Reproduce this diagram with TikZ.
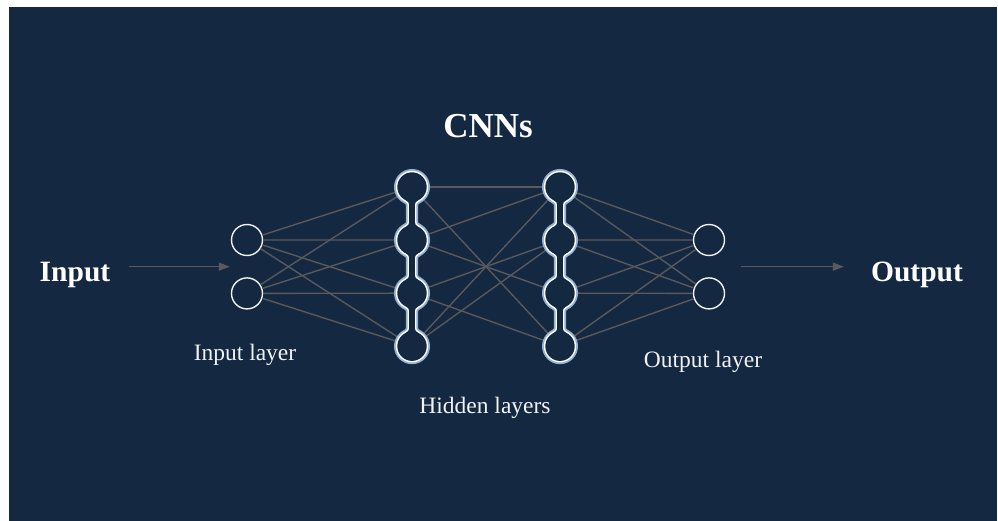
\documentclass[tikz,border=0pt]{standalone}
\usepackage{fontspec}
\setmainfont{Liberation Serif}
\usetikzlibrary{arrows.meta, positioning}

\definecolor{panel}{RGB}{21,40,66}
\definecolor{wire}{RGB}{90,90,92}
\definecolor{glow}{RGB}{150,176,208}

% waist between two stacked hidden neurons (#1 above, #2 below)
\newcommand{\neckpath}[2]{%
  ([shift={(-5.82,13.5)}]#1.center) .. controls +(1.84,0.79) and +(0,-2) .. ([shift={(-2.8,18.09)}]#1.center)
  -- ([shift={(-2.8,-18.09)}]#2.center) .. controls +(0,2) and +(1.84,-0.79) .. ([shift={(-5.82,-13.5)}]#2.center)
  -- (#2.center) -- ([shift={(5.82,-13.5)}]#2.center)
  .. controls +(-1.84,-0.79) and +(0,2) .. ([shift={(2.8,-18.09)}]#2.center)
  -- ([shift={(2.8,18.09)}]#1.center) .. controls +(0,-2) and +(-1.84,0.79) .. ([shift={(5.82,13.5)}]#1.center)
  -- (#1.center) -- cycle}

\begin{document}
\begin{tikzpicture}[
    x=1pt, y=-1pt,
    neuron/.style={circle, draw=white!88!gray, line width=1.4pt, minimum size=31pt, inner sep=0pt},
    hidden/.style={circle, minimum size=30pt, inner sep=0pt},
    edge/.style={draw=wire, line width=1.35pt},
    arrow/.style={-{Triangle[length=11pt, width=8pt]}, draw=wire, line width=1.4pt},
    title/.style={font=\fontsize{35}{40}\selectfont\bfseries, text=white, inner sep=0pt},
    io/.style={font=\fontsize{29.5}{34}\selectfont\bfseries, text=white, inner sep=0pt},
    caption/.style={font=\fontsize{23.5}{28}\selectfont, text=white!94!panel, inner sep=0pt}
]

% page and panel
\fill[white] (0,0) rectangle (998,521);
\fill[panel] (9,7) rectangle (997,521);

% neurons
\node[neuron] (in1) at (247,240) {};
\node[neuron, below=21pt of in1] (in2) {};

\node[hidden] (ha1) at (412,187) {};
\node[hidden, below=22.67pt of ha1] (ha2) {};
\node[hidden, below=22.67pt of ha2] (ha3) {};
\node[hidden, below=22.67pt of ha3] (ha4) {};

\node[hidden] (hb1) at (560,187) {};
\node[hidden, below=22.67pt of hb1] (hb2) {};
\node[hidden, below=22.67pt of hb2] (hb3) {};
\node[hidden, below=22.67pt of hb3] (hb4) {};

\node[neuron] (out1) at (709,240) {};
\node[neuron, below=21pt of out1] (out2) {};

% texts
\node[title, anchor=base] (cnn) at (488,138) {CNNs};
\node[io, anchor=base] (input) at (75,281) {Input};
\node[io, anchor=base] (output) at (917,282) {Output};
\node[caption, anchor=base] (inlabel) at (245,360) {Input layer};
\node[caption, anchor=base] (hidlabel) at (485,413) {Hidden layers};
\node[caption, anchor=base] (outlabel) at (703,367) {Output layer};

% input layer to first hidden layer
\draw[edge] (in1) -- (ha1);
\draw[edge] (in1) -- (ha2);
\draw[edge] (in1) -- (ha3);
\draw[edge] (in1) -- (ha4);
\draw[edge] (in2) -- (ha1);
\draw[edge] (in2) -- (ha2);
\draw[edge] (in2) -- (ha3);
\draw[edge] (in2) -- (ha4);

% between the hidden layers
\draw[edge] (ha1) -- (hb1);
\draw[edge] (ha1) -- (hb4);
\draw[edge] (ha2) -- (hb1);
\draw[edge] (ha2) -- (hb3);
\draw[edge] (ha3) -- (hb2);
\draw[edge] (ha3) -- (hb4);
\draw[edge] (ha4) -- (hb1);
\draw[edge] (ha4) -- (hb2);

% second hidden layer to output layer
\draw[edge] (hb1) -- (out1);
\draw[edge] (hb1) -- (out2);
\draw[edge] (hb2) -- (out1);
\draw[edge] (hb2) -- (out2);
\draw[edge] (hb3) -- (out1);
\draw[edge] (hb3) -- (out2);
\draw[edge] (hb4) -- (out1);
\draw[edge] (hb4) -- (out2);

% rims of the hidden layers: wide glow, white line, then filled inside
\foreach \col in {ha,hb} {
  \foreach \rim/\w in {glow/6.6pt, white/3pt} {
    \draw[\rim, line width=\w] (\col1) circle[radius=14.7pt] (\col2) circle[radius=14.7pt]
      (\col3) circle[radius=14.7pt] (\col4) circle[radius=14.7pt];
    \draw[\rim, line width=\w] \neckpath{\col1}{\col2} \neckpath{\col2}{\col3} \neckpath{\col3}{\col4};
  }
  \fill[panel] (\col1) circle[radius=14.7pt] (\col2) circle[radius=14.7pt]
    (\col3) circle[radius=14.7pt] (\col4) circle[radius=14.7pt];
  \fill[panel] \neckpath{\col1}{\col2} \neckpath{\col2}{\col3} \neckpath{\col3}{\col4};
}

% in and out arrows
\path (in1.west) -- (in2.west) coordinate[pos=0.5] (inlink);
\path (out1.east) -- (out2.east) coordinate[pos=0.5] (outlink);
\draw[arrow, shorten <=19pt, shorten >=1pt] (input.east |- inlink) -- (inlink);
\draw[arrow, shorten <=16pt, shorten >=27pt] (outlink) -- (output.west |- outlink);

\end{tikzpicture}
\end{document}
